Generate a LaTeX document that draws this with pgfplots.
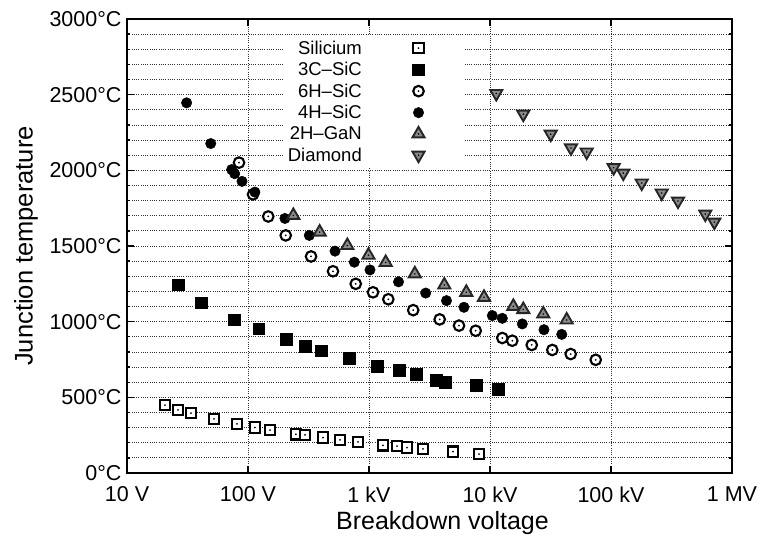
\documentclass[border=0pt]{standalone}
\usepackage{fontspec}
\setmainfont{Liberation Sans}
\usepackage{pgfplots}
\pgfplotsset{compat=1.18}

\pgfdeclareplotmark{dsq}{%
  \pgfpathrectangle{\pgfpoint{-\pgfplotmarksize}{-\pgfplotmarksize}}{\pgfpoint{2\pgfplotmarksize}{2\pgfplotmarksize}}%
  \pgfusepathqfillstroke
  \begin{pgfscope}\pgfsetfillcolor{black}%
  \pgfpathcircle{\pgfpointorigin}{1pt}\pgfusepathqfill\end{pgfscope}}
\pgfdeclareplotmark{dcirc}{%
  \pgfpathcircle{\pgfpointorigin}{\pgfplotmarksize}%
  \pgfusepathqfillstroke
  \begin{pgfscope}\pgfsetfillcolor{black}%
  \pgfpathcircle{\pgfpointorigin}{1pt}\pgfusepathqfill\end{pgfscope}}
\pgfdeclareplotmark{dtriup}{%
  \pgfpathmoveto{\pgfpointpolar{90}{\pgfplotmarksize}}%
  \pgfpathlineto{\pgfpointpolar{210}{\pgfplotmarksize}}%
  \pgfpathlineto{\pgfpointpolar{330}{\pgfplotmarksize}}%
  \pgfpathclose
  \pgfusepathqfillstroke
  \begin{pgfscope}\pgfsetfillcolor{black}%
  \pgfpathcircle{\pgfpointorigin}{0.9pt}\pgfusepathqfill\end{pgfscope}}
\pgfdeclareplotmark{dtridown}{%
  \pgfpathmoveto{\pgfpointpolar{270}{\pgfplotmarksize}}%
  \pgfpathlineto{\pgfpointpolar{30}{\pgfplotmarksize}}%
  \pgfpathlineto{\pgfpointpolar{150}{\pgfplotmarksize}}%
  \pgfpathclose
  \pgfusepathqfillstroke
  \begin{pgfscope}\pgfsetfillcolor{black}%
  \pgfpathcircle{\pgfpointorigin}{0.9pt}\pgfusepathqfill\end{pgfscope}}

\pgfplotstableread{
x y
20.6 448
26.4 417
33.8 395
52.4 358
81.1 325
114 300
152 283
249 256
296 252
417 234
576 219
811 205
1306 183
1703 177
2061 168
2794 159
4944 141
8110 124
}\silicium

\pgfplotstableread{
x y
26.4 1245
40.9 1124
76.6 1013
123 952
206 885
296 837
401 808
684 758
1175 707
1770 679
2445 654
3578 614
4246 601
7660 581
11650 554
}\threeC

\pgfplotstableread{
x y
84.3 2051
110 1841
147 1695
205 1570
332 1431
504 1333
777 1250
1079 1194
1444 1148
2319 1076
3838 1015
5544 974
7620 940
12640 892
15280 874
22130 846
32730 813
46450 786
74800 748
}\sixH

\pgfplotstableread{
x y
31.1 2446
49.2 2177
73.3 2005
77.6 1978
89.2 1927
114 1856
202 1682
321 1570
524 1466
756 1393
1019 1342
1754 1263
2942 1189
4369 1139
6095 1095
10450 1040
12640 1022
18490 985
27930 947
39150 916
}\fourH

\pgfplotstableread{
x y
237 1702
391 1592
662 1503
990 1439
1374 1391
2392 1316
4190 1242
6370 1194
8920 1161
15590 1101
18840 1080
27560 1051
43030 1011
}\gan

\pgfplotstableread{
x y
11270 2508
18840 2371
31750 2239
46700 2148
62950 2121
105200 2018
126400 1982
179400 1916
262500 1850
358000 1797
601600 1711
714500 1658
}\diamond

\begin{document}
\begin{tikzpicture}
\pgfplotsset{myleg/.style={legend image code/.code={%
  \path (0pt,0pt) (98pt,0pt);
  \draw[##1] plot coordinates {(55pt,0pt)};}}}
\begin{axis}[
  scale only axis, width=605pt, height=454pt,
  xmode=log, log basis x=10,
  xmin=10, xmax=1000000, ymin=0, ymax=3000,
  xtick={10,100,1000,10000,100000,1000000},
  xticklabels={10 V,100 V,1 kV,10 kV,100 kV,1 MV},
  ytick={0,500,1000,1500,2000,2500,3000},
  yticklabels={0°C,500°C,1000°C,1500°C,2000°C,2500°C,3000°C},
  minor y tick num=4,
  grid=both,
  major grid style={black!80, line width=0.75pt, dash pattern=on 0.75pt off 1.5pt},
  minor grid style={black!80, line width=0.75pt, dash pattern=on 0.75pt off 1.5pt},
  axis line style={line width=2.2pt},
  every tick/.style={black, line width=1.3pt},
  major tick length=7pt, minor tick length=3.5pt,
  tick label style={font=\fontsize{21.5}{23}\selectfont},
  xticklabel style={yshift=-10pt},
  yticklabel style={xshift=-2pt},
  xlabel={Breakdown voltage},
  ylabel={Junction temperature},
  every axis x label/.style={at={(rel axis cs:0.5,0)}, anchor=center, yshift=-50pt, xshift=13pt, font=\fontsize{25}{27}\selectfont},
  every axis y label/.style={at={(rel axis cs:0,0.5)}, anchor=center, xshift=-101pt, rotate=90, font=\fontsize{25.5}{27}\selectfont},
  legend style={at={(rel axis cs:0.258,0.9626)}, anchor=north west, draw=none, fill=white,
    font=\fontsize{18.5}{20}\selectfont, row sep=3.6pt, inner sep=3pt,
    nodes={inner sep=1.5pt}},
  legend cell align=right,
  legend plot pos=right,
]
\addplot[only marks, mark=dsq, mark size=5.2pt, mark options={draw=black, fill=white, line width=2.1pt}, myleg] table[x=x,y=y] {\silicium};
\addlegendentry{Silicium}
\addplot[only marks, mark=square*, mark size=5.8pt, mark options={draw=black, fill=black, line width=0.5pt}, myleg] table[x=x,y=y] {\threeC};
\addlegendentry{3C--SiC}
\addplot[only marks, mark=dcirc, mark size=5.3pt, mark options={draw=black, fill=white, line width=2.1pt}, myleg] table[x=x,y=y] {\sixH};
\addlegendentry{6H--SiC}
\addplot[only marks, mark=*, mark size=5.2pt, mark options={draw=black, fill=black, line width=0.5pt}, myleg] table[x=x,y=y] {\fourH};
\addlegendentry{4H--SiC}
\addplot[only marks, mark=dtriup, mark size=7pt, mark options={draw=black!85, fill=black!45, line width=1.9pt}, myleg] table[x=x,y=y] {\gan};
\addlegendentry{2H--GaN}
\addplot[only marks, mark=dtridown, mark size=7pt, mark options={draw=black!85, fill=black!45, line width=1.9pt}, myleg] table[x=x,y=y] {\diamond};
\addlegendentry{Diamond}
\end{axis}
\pgfresetboundingbox
\path[use as bounding box] ([shift={(-127pt,-67pt)}]current axis.south west) rectangle ([shift={(32pt,19pt)}]current axis.north east);
\end{tikzpicture}
\end{document}
